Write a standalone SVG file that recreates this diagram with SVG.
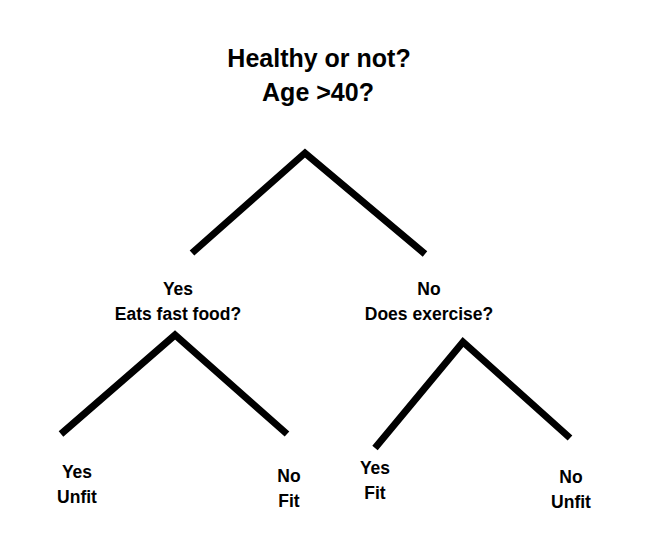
<svg xmlns="http://www.w3.org/2000/svg" width="662" height="540" viewBox="0 0 662 540">
<style>
text{font-family:"Liberation Sans",Arial,sans-serif;font-weight:bold;fill:#000;text-anchor:middle}
.t{font-size:25px}
.l{font-size:17.5px}
.c{fill:none;stroke:#000;stroke-width:7;stroke-linejoin:miter;stroke-linecap:butt}
</style>
<rect width="662" height="540" fill="#fff"/>
<g id="connectors">
<polyline class="c" points="192,253 305,153 425,254"/>
<polyline class="c" points="61,434 175,335 287,434"/>
<polyline class="c" points="375,448 463,342 570,438"/>
</g>
<g id="root"><text class="t" x="319" y="67">Healthy or not?</text><text class="t" x="318" y="101">Age &gt;40?</text></g>
<g id="yes-fastfood"><text class="l" x="178" y="295">Yes</text><text class="l" x="178" y="320">Eats fast food?</text></g>
<g id="no-exercise"><text class="l" x="429" y="295">No</text><text class="l" x="429" y="320">Does exercise?</text></g>
<g id="leaf-yes-unfit"><text class="l" x="77" y="478">Yes</text><text class="l" x="77" y="503">Unfit</text></g>
<g id="leaf-no-fit"><text class="l" x="289" y="482">No</text><text class="l" x="289" y="507">Fit</text></g>
<g id="leaf-yes-fit"><text class="l" x="375" y="474">Yes</text><text class="l" x="375" y="499">Fit</text></g>
<g id="leaf-no-unfit"><text class="l" x="571" y="483">No</text><text class="l" x="571" y="508">Unfit</text></g>
</svg>
